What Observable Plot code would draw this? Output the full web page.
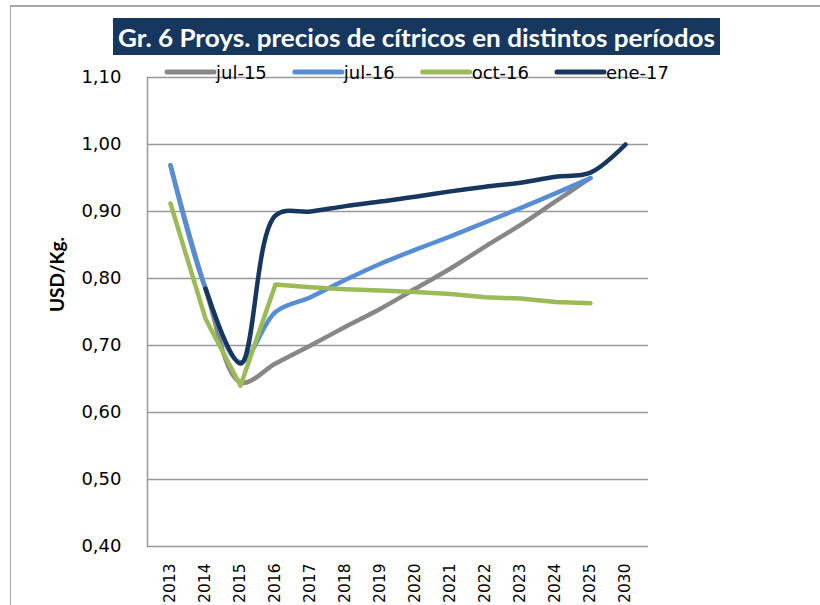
<!DOCTYPE html>
<html><head><meta charset="utf-8">
<script src="https://cdn.jsdelivr.net/npm/d3@7"></script>
<script src="https://cdn.jsdelivr.net/npm/@observablehq/plot@0.6"></script>
<style>
body{margin:0;background:#fff;}
#wrap{position:relative;width:820px;height:605px;overflow:hidden;background:#fff;}
#border{position:absolute;left:10px;top:5px;width:830px;height:620px;border-top:2px solid #a6a6a6;border-left:1px solid #a6a6a6;}
#chart{position:absolute;left:0;top:0;}
#overlay{position:absolute;left:0;top:0;}
</style></head>
<body><div id="wrap"><div id="border"></div><div id="chart"></div><svg id="overlay" width="820" height="605"></svg></div>
<script>
const years = ["2013","2014","2015","2016","2017","2018","2019","2020","2021","2022","2023","2024","2025","2030"];
const seriesNames = ["jul-15","jul-16","oct-16","ene-17"];
const seriesColors = ["#878787","#558ed5","#9bbb59","#17375e"];
const seriesCurves = ["catmull-rom","catmull-rom","linear","catmull-rom"];
const jul15 = [0.969, 0.785, 0.645, 0.673, 0.700, 0.728, 0.755, 0.785, 0.815, 0.848, 0.880, 0.915, 0.950, null];
const jul16 = [0.969, 0.785, 0.675, 0.750, 0.772, 0.798, 0.822, 0.843, 0.863, 0.884, 0.905, 0.927, 0.950, null];
const oct16 = [0.912, 0.740, 0.640, 0.791, 0.787, 0.784, 0.782, 0.780, 0.777, 0.772, 0.770, 0.765, 0.763, null];
const ene17 = [null, 0.785, 0.673, 0.894, 0.900, 0.908, 0.915, 0.922, 0.930, 0.937, 0.943, 0.952, 0.958, 1.000];
const yTicks = [0.4, 0.5, 0.6, 0.7, 0.8, 0.9, 1.0, 1.1];
const titleText = "Gr. 6 Proys. precios de cítricos en distintos períodos";
const yLabel = "USD/Kg.";

const allSeries = [jul15, jul16, oct16, ene17];
const data = [];
allSeries.forEach((arr, i) => arr.forEach((v, j) => {
  if (v != null) data.push({serie: seriesNames[i], year: years[j], value: v});
}));

const lineMarks = seriesNames.map((name, i) =>
  Plot.line(data.filter(d => d.serie === name), {
    x: "year", y: "value", stroke: seriesColors[i], strokeWidth: 4.5,
    curve: seriesCurves[i], strokeLinecap: "round", strokeLinejoin: "round"
  })
);

const plot = Plot.plot({
  width: 820, height: 605,
  marginLeft: 147, marginRight: 172, marginTop: 77, marginBottom: 59,
  style: {fontFamily: "DejaVu Sans", fontSize: "18px", color: "#000", background: "transparent", overflow: "visible"},
  x: {type: "point", domain: years, padding: 0.5},
  y: {domain: [0.4, 1.1]},
  marks: [
    Plot.ruleY(yTicks, {stroke: "#999", strokeWidth: 1.5}),
    Plot.frame({anchor: "left", stroke: "#999", strokeWidth: 1.5}),
    Plot.axisY(yTicks, {tickSize: 0, tickPadding: 26, fontSize: 18, label: null,
      tickFormat: d => d.toFixed(2).replace(".", ",")}),
    Plot.axisX({tickSize: 0, tickRotate: -90, tickPadding: 17, fontSize: 15.5, label: null}),
    Plot.text([yLabel], {frameAnchor: "left", dx: -90, rotate: -90, fontWeight: "bold", fontSize: 19, fontFamily: "Lato", fill: "#000"}),
    ...lineMarks
  ]
});
document.getElementById("chart").appendChild(plot);

// Title and legend overlay
const ov = d3.select("#overlay");
ov.append("rect").attr("x", 113).attr("y", 18).attr("width", 607).attr("height", 37).attr("fill", "#17375e");
ov.append("text").attr("x", 416.5).attr("y", 47).attr("text-anchor", "middle")
  .attr("fill", "#fff").attr("font-family", "Lato").attr("font-weight", "bold").attr("font-size", 24)
  .attr("textLength", 597).attr("lengthAdjust", "spacingAndGlyphs").text(titleText);

let lx = 167;
seriesNames.forEach((name, i) => {
  ov.append("line").attr("x1", lx).attr("x2", lx + 47).attr("y1", 72).attr("y2", 72)
    .attr("stroke", seriesColors[i]).attr("stroke-width", 5).attr("stroke-linecap", "round");
  const t = ov.append("text").attr("x", lx + 49).attr("y", 79).attr("font-family", "DejaVu Sans")
    .attr("font-size", 18).attr("fill", "#000").text(name);
  lx = lx + 49 + t.node().getComputedTextLength() + 28;
});
</script>
</body></html>
